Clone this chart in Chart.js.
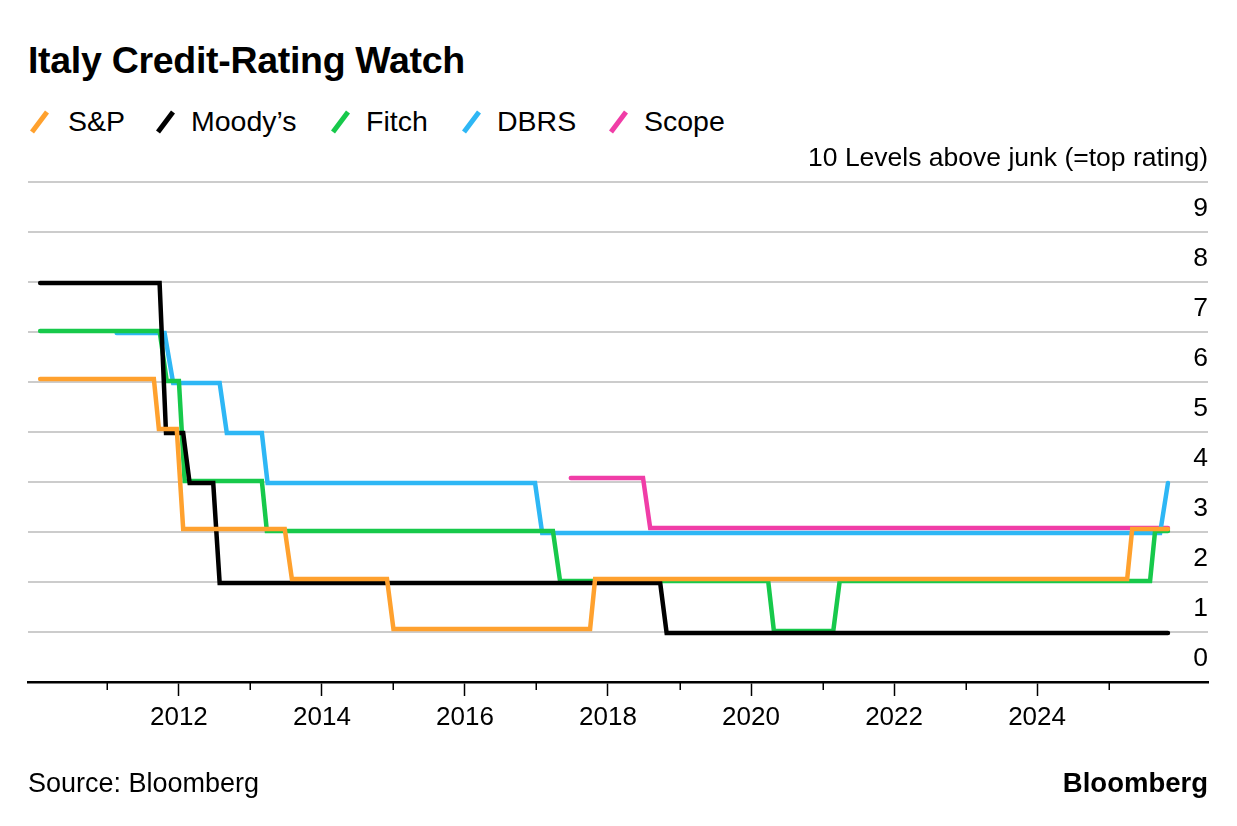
<!DOCTYPE html>
<html>
<head>
<meta charset="utf-8">
<script src="https://cdn.jsdelivr.net/npm/chart.js@4.4.1/dist/chart.umd.min.js"></script>
<style>
  html, body { margin: 0; padding: 0; background: #fff; }
  body { width: 1237px; height: 826px; position: relative; overflow: hidden; font-family: "Liberation Sans", Arial, sans-serif; color: #000; }
  #chart { position: absolute; left: 0; top: 0; }
  .title { position: absolute; left: 28px; top: 42px; font-size: 37.5px; line-height: 37px; font-weight: bold; letter-spacing: -0.3px; white-space: nowrap; }
  .legend-item { position: absolute; top: 107px; height: 28px; font-size: 28.5px; line-height: 28px; white-space: nowrap; }
  .legend-item svg { position: absolute; top: 2px; }
  .legend-item span { position: absolute; top: 0; }
  .source { position: absolute; left: 28px; top: 770px; font-size: 27px; line-height: 26px; white-space: nowrap; }
  .brand { position: absolute; right: 29px; top: 770px; font-size: 27.5px; line-height: 26px; font-weight: bold; white-space: nowrap; }
</style>
</head>
<body>
<div class="title">Italy Credit-Rating Watch</div>
<div id="legend"></div>
<canvas id="chart" width="1237" height="826"></canvas>
<div class="source">Source: Bloomberg</div>
<div class="brand">Bloomberg</div>
<script>
// ---- Data (decimal years, levels above junk) ----
const seriesNames = ["S&P", "Moody\u2019s", "Fitch", "DBRS", "Scope"];
const seriesColors = ["#FFA12E", "#000000", "#17C94B", "#2EB7F5", "#F03DA7"];

const spDates = [2010.06, 2011.65, 2011.72, 2011.97, 2012.06, 2013.48, 2013.58, 2014.91, 2015.00, 2017.75, 2017.82, 2025.26, 2025.33, 2025.83];
const spLevels = [6, 6, 5, 5, 3, 3, 2, 2, 1, 1, 2, 2, 3, 3];

const moodysDates = [2010.06, 2011.73, 2011.82, 2012.06, 2012.15, 2012.48, 2012.57, 2018.73, 2018.82, 2025.83];
const moodysLevels = [8, 8, 5, 5, 4, 4, 2, 2, 1, 1];

const fitchDates = [2010.06, 2011.73, 2011.83, 2012.00, 2012.08, 2013.16, 2013.23, 2017.23, 2017.33, 2020.24, 2020.32, 2021.15, 2021.24, 2025.58, 2025.65, 2025.83];
const fitchLevels = [7, 7, 6, 6, 4, 4, 3, 3, 2, 2, 1, 1, 2, 2, 3, 3];

const dbrsDates = [2011.13, 2011.80, 2011.92, 2012.57, 2012.67, 2013.16, 2013.24, 2016.98, 2017.08, 2025.72, 2025.83];
const dbrsLevels = [7, 7, 6, 6, 5, 5, 4, 4, 3, 3, 4];

const scopeDates = [2017.48, 2018.49, 2018.59, 2025.83];
const scopeLevels = [4, 4, 3, 3];

const xTickYears = [2011, 2012, 2013, 2014, 2015, 2016, 2017, 2018, 2019, 2020, 2021, 2022, 2023, 2024, 2025];
const yTickValues = [0, 1, 2, 3, 4, 5, 6, 7, 8, 9, 10];
const yTickLabels = ["0", "1", "2", "3", "4", "5", "6", "7", "8", "9", "10 Levels above junk (=top rating)"];

// small vertical pixel nudges so overlapping lines stay visible (style only)
const lineNudges = [-3, 1, -1, 1, -4];

const allDates = [spDates, moodysDates, fitchDates, dbrsDates, scopeDates];
const allLevels = [spLevels, moodysLevels, fitchLevels, dbrsLevels, scopeLevels];

// ---- Legend (HTML) ----
const legendLefts = [28, 154, 329, 460, 607];
const legend = document.getElementById('legend');
seriesNames.forEach((name, i) => {
  const d = document.createElement('div');
  d.className = 'legend-item';
  d.style.left = legendLefts[i] + 'px';
  d.innerHTML = '<svg width="24" height="26"><line x1="4" y1="23" x2="19" y2="3" stroke="' + seriesColors[i] + '" stroke-width="5"/></svg>' +
    '<span style="left:' + (i === 0 ? 40 : 37) + 'px">' + name.replace('&', '&amp;') + '</span>';
  legend.appendChild(d);
});

// ---- Chart ----
const datasets = seriesNames.map((name, i) => ({
  label: name,
  data: allDates[i].map((d, j) => ({ x: d, y: allLevels[i][j] })),
  borderColor: seriesColors[i],
  backgroundColor: seriesColors[i],
  borderWidth: 4.5,
  pointRadius: 0,
  tension: 0,
  fill: false,
  borderCapStyle: 'round',
  borderJoinStyle: 'miter',
  clip: false
}));

const nudgePlugin = {
  id: 'nudge',
  beforeDatasetDraw(chart, args) {
    chart.ctx.save();
    chart.ctx.translate(0, lineNudges[args.index] || 0);
  },
  afterDatasetDraw(chart) {
    chart.ctx.restore();
  }
};

const minorTickPlugin = {
  id: 'minorTicks',
  afterDraw(chart) {
    const xs = chart.scales.x;
    const ctx = chart.ctx;
    ctx.save();
    ctx.strokeStyle = '#000';
    ctx.lineWidth = 1.5;
    xTickYears.forEach(y => {
      if (y % 2 !== 0) {
        const px = Math.round(xs.getPixelForValue(y)) + 0.25;
        ctx.beginPath();
        ctx.moveTo(px, xs.top);
        ctx.lineTo(px, xs.top + 8);
        ctx.stroke();
      }
    });
    ctx.restore();
  }
};

new Chart(document.getElementById('chart'), {
  type: 'line',
  data: { datasets },
  plugins: [nudgePlugin, minorTickPlugin],
  options: {
    responsive: false,
    animation: false,
    events: [],
    layout: { padding: { left: 28, right: 29, top: 182, bottom: 84 } },
    plugins: { legend: { display: false }, tooltip: { enabled: false }, title: { display: false } },
    scales: {
      x: {
        type: 'linear',
        min: 2009.89,
        max: 2026.39,
        afterBuildTicks: s => { s.ticks = xTickYears.map(v => ({ value: v })); },
        afterFit: s => { s.height = 60; },
        ticks: {
          autoSkip: false,
          maxRotation: 0,
          includeBounds: false,
          padding: 6,
          color: '#000',
          font: { family: '"Liberation Sans", Arial, sans-serif', size: 26 },
          callback: v => (v % 2 === 0 ? String(v) : '')
        },
        grid: {
          drawOnChartArea: false,
          drawTicks: true,
          tickLength: 14,
          tickWidth: 1.5,
          tickColor: c => (c.tick && c.tick.value % 2 === 0 ? '#000' : 'rgba(0,0,0,0)')
        },
        border: { display: true, color: '#000', width: 2.5 }
      },
      y: {
        type: 'linear',
        position: 'right',
        min: 0,
        max: 10,
        afterBuildTicks: s => { s.ticks = yTickValues.map(v => ({ value: v })); },
        afterFit: s => { s.width = 0; },
        ticks: {
          mirror: true,
          padding: 0,
          labelOffset: -23,
          color: '#000',
          font: { family: '"Liberation Sans", Arial, sans-serif', size: 26.5 },
          callback: (v) => yTickLabels[yTickValues.indexOf(v)]
        },
        grid: { color: '#cccccc', lineWidth: 2, drawTicks: false },
        border: { display: false }
      }
    }
  }
});
</script>
</body>
</html>
